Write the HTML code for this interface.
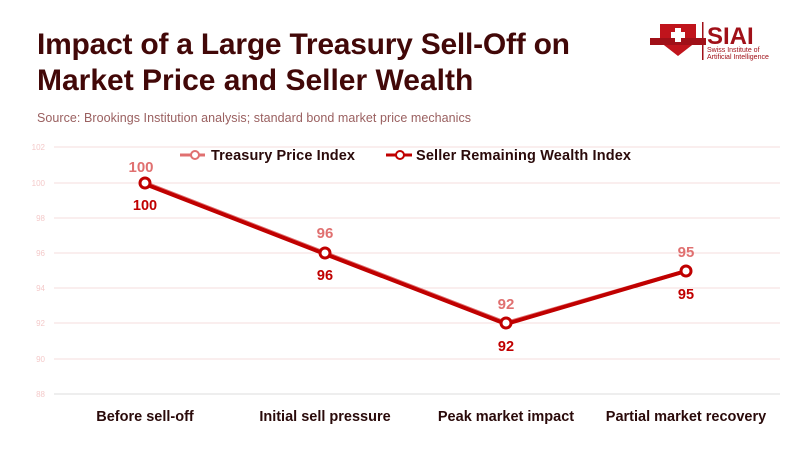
<!DOCTYPE html>
<html><head><meta charset="utf-8"><style>
body{margin:0;width:800px;height:450px;background:#fff;overflow:hidden;font-family:"Liberation Sans",sans-serif}
</style></head><body>
<svg width="800" height="450" xmlns="http://www.w3.org/2000/svg" font-family="Liberation Sans, sans-serif">
<text x="37" y="54" font-size="30" font-weight="bold" fill="#420808" textLength="533">Impact of a Large Treasury Sell-Off on</text>
<text x="37" y="90" font-size="30" font-weight="bold" fill="#420808">Market Price and Seller Wealth</text>
<text x="37" y="122" font-size="12.5" fill="#9a6060" textLength="434">Source: Brookings Institution analysis; standard bond market price mechanics</text>
<!-- logo -->
<path d="M660 24 h36 v18 l-18 14 l-18 -14z" fill="#c0141c"/>
<rect x="650" y="38" width="56" height="7" fill="#a01018"/>
<rect x="675" y="28" width="6" height="14" fill="#fff"/><rect x="671" y="32" width="14" height="6" fill="#fff"/>
<rect x="702" y="22" width="1.5" height="38" fill="#a01018"/>
<text x="707" y="44" font-size="24" font-weight="bold" fill="#a01018">SIAI</text>
<text x="707" y="52" font-size="7" fill="#a01018">Swiss Institute of</text>
<text x="707" y="59" font-size="7" fill="#a01018">Artificial Intelligence</text>
<g stroke="#f6dede" stroke-width="1">
<line x1="54" x2="780" y1="147" y2="147"/><line x1="54" x2="780" y1="183" y2="183"/>
<line x1="54" x2="780" y1="218" y2="218"/><line x1="54" x2="780" y1="253" y2="253"/>
<line x1="54" x2="780" y1="288" y2="288"/><line x1="54" x2="780" y1="323" y2="323"/>
<line x1="54" x2="780" y1="359" y2="359"/>
</g>
<line x1="54" x2="780" y1="394" y2="394" stroke="#ddd"/>
<g font-size="8" fill="#f4caca" text-anchor="end">
<text x="45" y="150">102</text><text x="45" y="186">100</text><text x="45" y="221">98</text><text x="45" y="256">96</text>
<text x="45" y="291">94</text><text x="45" y="326">92</text><text x="45" y="362">90</text><text x="45" y="397">88</text>
</g>
<!-- legend -->
<line x1="180" x2="205" y1="155" y2="155" stroke="#e07070" stroke-width="3"/>
<circle cx="195" cy="155" r="4" fill="#fff" stroke="#e07070" stroke-width="2"/>
<text x="211" y="160" font-size="14.5" font-weight="bold" fill="#2a0a0a" textLength="144">Treasury Price Index</text>
<line x1="386" x2="412" y1="155" y2="155" stroke="#c00000" stroke-width="3"/>
<circle cx="400" cy="155" r="4" fill="#fff" stroke="#c00000" stroke-width="2"/>
<text x="416" y="160" font-size="14.5" font-weight="bold" fill="#2a0a0a" textLength="215">Seller Remaining Wealth Index</text>
<polyline points="145,183 325,253 506,323 686,271" fill="none" stroke="#e07070" stroke-width="4"/>
<polyline points="145,184 325,254 506,324 686,271" fill="none" stroke="#c00000" stroke-width="4"/>
<g fill="#fff" stroke="#c00000" stroke-width="3">
<circle cx="145" cy="183" r="5"/><circle cx="325" cy="253" r="5"/><circle cx="506" cy="323" r="5"/><circle cx="686" cy="271" r="5"/>
</g>
<g font-size="15" font-weight="bold" text-anchor="middle" fill="#e07070">
<text x="141" y="172">100</text><text x="325" y="238">96</text><text x="506" y="309">92</text><text x="686" y="257">95</text>
</g>
<g font-size="14.5" font-weight="bold" text-anchor="middle" fill="#c00000">
<text x="145" y="210">100</text><text x="325" y="280">96</text><text x="506" y="351">92</text><text x="686" y="299">95</text>
</g>
<g font-size="14.5" font-weight="bold" text-anchor="middle" fill="#2a0a0a">
<text x="145" y="421">Before sell-off</text><text x="325" y="421">Initial sell pressure</text>
<text x="506" y="421">Peak market impact</text><text x="686" y="421">Partial market recovery</text>
</g>
</svg>
</body></html>
